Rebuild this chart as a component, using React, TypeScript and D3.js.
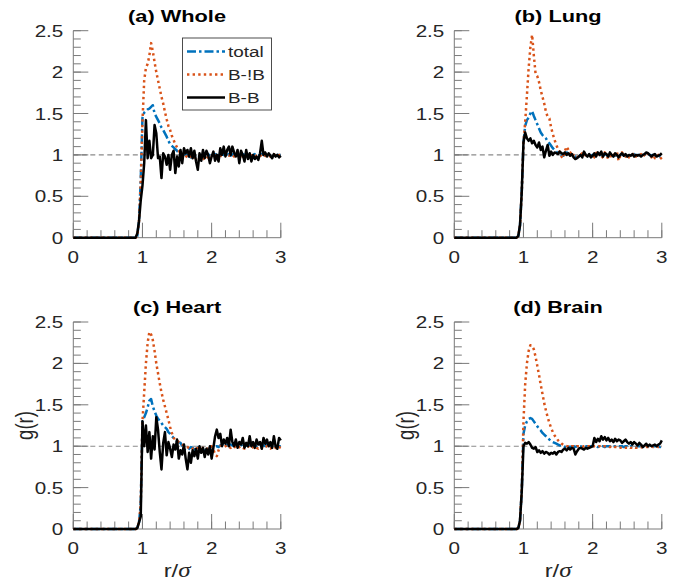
import React from 'react';
import * as d3 from 'd3';

// r/sigma sampling grid
const R = [0,
  0.9, 0.925, 0.95, 0.975, 1.0, 1.025, 1.05, 1.075, 1.1, 1.125,
  1.15, 1.175, 1.2, 1.225, 1.25, 1.275, 1.3, 1.325, 1.35, 1.375,
  1.4, 1.425, 1.45, 1.475, 1.5, 1.525, 1.55, 1.575, 1.6, 1.625,
  1.65, 1.675, 1.7, 1.725, 1.75, 1.775, 1.8, 1.825, 1.85, 1.875,
  1.9, 1.925, 1.95, 1.975, 2.0, 2.025, 2.05, 2.075, 2.1, 2.125,
  2.15, 2.175, 2.2, 2.225, 2.25, 2.275, 2.3, 2.325, 2.35, 2.375,
  2.4, 2.425, 2.45, 2.475, 2.5, 2.525, 2.55, 2.575, 2.6, 2.625,
  2.65, 2.675, 2.7, 2.725, 2.75, 2.775, 2.8, 2.825, 2.85, 2.875,
  2.9, 2.925, 2.95, 2.975, 3.0];

// (a) Whole
const wholeTotal = [0,
  0, 0.02, 0.2, 0.7, 1.45, 1.51, 1.53, 1.55, 1.56, 1.58,
  1.6, 1.5, 1.46, 1.42, 1.38, 1.33, 1.3, 1.26, 1.22, 1.17,
  1.13, 1.11, 1.09, 1.07, 1.05, 1.02, 0.99, 0.98, 1.0, 1.01,
  0.99, 0.98, 0.97, 0.99, 1.0, 0.98, 0.97, 0.98, 1.0, 0.99,
  0.98, 1.0, 1.01, 0.99, 0.98, 1.0, 1.01, 1.0, 0.99, 1.01,
  1.02, 1.0, 0.99, 1.0, 1.01, 0.99, 1.0, 1.02, 1.01, 1.0,
  0.99, 1.0, 1.01, 1.0, 0.99, 1.0, 1.0, 0.99, 1.0, 1.01,
  1.0, 0.99, 1.0, 1.01, 1.0, 0.99, 1.0, 1.0, 0.99, 1.0,
  1.0, 0.99, 1.0, 1.0, 1.0];
const wholeBNB = [0,
  0, 0.02, 0.2, 0.65, 1.4, 1.9, 2.05, 2.1, 2.2, 2.35,
  2.25, 2.12, 2.0, 1.9, 1.8, 1.7, 1.62, 1.52, 1.43, 1.35,
  1.3, 1.23, 1.18, 1.13, 1.09, 1.05, 1.02, 1.0, 1.02, 0.99,
  0.97, 0.96, 0.98, 1.0, 0.97, 0.95, 0.94, 0.95, 0.97, 0.96,
  0.94, 0.95, 0.98, 1.0, 0.99, 0.97, 0.98, 1.0, 1.01, 0.99,
  0.98, 1.0, 1.02, 1.0, 0.99, 1.01, 1.0, 0.98, 1.0, 1.02,
  1.01, 0.99, 0.98, 1.0, 1.01, 1.0, 0.98, 0.99, 1.01, 1.0,
  0.98, 0.99, 1.0, 0.98, 0.97, 0.99, 1.0, 0.99, 0.98, 1.0,
  1.01, 0.99, 0.98, 1.0, 1.0];
const wholeBB = [0,
  0, 0.05, 0.2, 0.45, 0.63, 0.9, 1.42, 0.96, 1.17, 0.96,
  1.0, 1.36, 1.26, 0.96, 0.98, 0.72, 1.02, 0.98, 0.88, 1.0,
  0.82, 1.0, 1.05, 0.78, 0.98, 0.86, 1.06, 0.9, 1.08, 1.02,
  1.06, 0.98, 1.08, 0.96, 1.05, 0.92, 0.82, 1.02, 0.93, 1.06,
  0.96, 1.05, 1.0, 0.9, 0.98, 1.04, 0.93, 1.0, 0.92, 1.08,
  1.0, 1.1, 0.98, 1.06, 1.1, 1.0, 1.1, 1.03, 0.98, 1.06,
  0.9, 1.05, 1.0, 0.92, 1.06, 0.95, 1.02, 0.92, 1.0, 0.95,
  0.98, 0.94, 1.02, 1.17, 1.0, 1.03, 0.98, 1.02, 0.99, 0.96,
  1.01, 0.98, 1.0, 0.97, 0.99];

// (b) Lung
const lungTotal = [0,
  0, 0.02, 0.15, 0.55, 1.15, 1.35, 1.42, 1.45, 1.5, 1.53,
  1.47, 1.42, 1.37, 1.32, 1.27, 1.24, 1.22, 1.2, 1.16, 1.14,
  1.11, 1.08, 1.06, 1.04, 1.02, 1.01, 1.0, 0.99, 1.01, 1.03,
  1.02, 1.0, 1.01, 0.99, 0.98, 0.97, 0.98, 1.0, 1.0, 1.02,
  1.0, 0.99, 1.0, 0.99, 1.0, 0.99, 1.01, 1.02, 1.0, 1.0,
  0.99, 1.01, 1.0, 0.98, 0.99, 1.01, 1.0, 0.99, 1.01, 0.98,
  1.0, 1.01, 1.0, 0.99, 1.0, 0.99, 1.0, 1.0, 1.01, 0.99,
  1.0, 1.0, 1.0, 0.99, 1.0, 1.02, 1.01, 1.0, 0.99, 1.0,
  0.99, 0.98, 1.0, 0.98, 0.99];
const lungBNB = [0,
  0, 0.02, 0.15, 0.55, 1.15, 1.4, 1.72, 2.05, 2.3, 2.45,
  2.2, 1.98, 1.95, 1.88, 1.78, 1.7, 1.62, 1.52, 1.46, 1.44,
  1.33, 1.25, 1.18, 1.12, 1.07, 1.03, 0.98, 0.96, 1.05, 1.1,
  1.06, 1.02, 1.04, 0.99, 1.0, 0.98, 0.97, 1.0, 1.02, 0.99,
  1.0, 0.98, 0.99, 1.01, 1.0, 0.97, 1.02, 1.04, 1.0, 0.96,
  0.98, 1.03, 1.0, 0.95, 0.96, 1.02, 1.0, 0.97, 1.04, 0.93,
  0.99, 1.03, 1.0, 0.98, 1.01, 0.97, 0.99, 1.0, 1.02, 0.98,
  1.0, 0.99, 1.01, 0.98, 1.0, 1.03, 1.01, 0.99, 0.97, 1.0,
  0.96, 0.98, 1.0, 0.95, 0.97];
const lungBB = [0,
  0, 0.02, 0.15, 0.55, 1.15, 1.27, 1.2, 1.17, 1.2, 1.14,
  1.17, 1.12, 1.09, 1.15, 1.06, 1.1, 0.97, 1.05, 1.12, 0.99,
  1.04, 1.0, 1.03, 1.02, 1.01, 1.04, 1.02, 1.01, 1.03, 1.0,
  1.02, 0.99, 1.01, 0.97, 0.95, 0.96, 0.98, 1.0, 0.97, 1.04,
  1.0, 0.98, 1.01, 0.97, 0.99, 1.02, 0.98, 1.03, 1.0, 1.04,
  0.98, 1.02, 1.01, 0.98, 1.03, 1.0, 0.98, 1.02, 1.0, 0.97,
  1.0, 1.02, 0.99, 1.01, 0.98, 1.0, 0.99, 1.01, 0.98, 1.0,
  0.99, 1.0, 0.98, 1.0, 1.01, 1.03, 1.02, 1.0, 0.98, 1.0,
  1.01, 0.98, 0.99, 1.0, 1.02];

// (c) Heart
const heartTotal = [0,
  0, 0.01, 0.08, 0.3, 1.3, 1.35, 1.4, 1.47, 1.55, 1.57,
  1.48, 1.42, 1.37, 1.33, 1.31, 1.28, 1.25, 1.23, 1.21, 1.17,
  1.15, 1.12, 1.1, 1.08, 1.06, 1.05, 1.04, 1.0, 0.96, 0.95,
  0.95, 0.97, 0.99, 0.98, 0.96, 0.97, 0.99, 0.97, 0.95, 0.96,
  0.94, 0.95, 0.97, 0.96, 0.95, 0.97, 0.99, 1.0, 0.99, 1.01,
  1.02, 1.0, 1.01, 1.02, 1.0, 1.02, 1.01, 1.0, 1.02, 1.01,
  1.0, 1.01, 1.02, 1.0, 1.01, 1.0, 1.02, 1.01, 1.0, 1.01,
  1.0, 1.01, 1.02, 1.0, 1.01, 1.0, 1.02, 1.0, 1.01, 1.0,
  1.01, 1.0, 0.99, 1.0, 1.0];
const heartBNB = [0,
  0, 0.01, 0.08, 0.3, 1.3, 1.65, 2.0, 2.25, 2.38, 2.35,
  2.28, 2.15, 2.0, 1.88, 1.76, 1.65, 1.56, 1.48, 1.4, 1.32,
  1.23, 1.16, 1.1, 1.08, 1.07, 1.05, 1.04, 1.02, 1.01, 1.0,
  0.99, 0.98, 0.99, 0.97, 0.96, 0.97, 0.98, 0.97, 0.96, 0.98,
  0.97, 0.96, 0.98, 0.99, 1.0, 0.96, 0.9, 0.88, 0.95, 1.0,
  1.01, 0.99, 1.0, 1.01, 0.99, 0.98, 1.0, 1.0, 0.98, 0.97,
  0.99, 1.0, 0.98, 0.97, 0.99, 1.0, 0.98, 0.97, 0.99, 1.0,
  0.98, 0.97, 0.99, 0.98, 0.97, 0.99, 1.0, 0.98, 0.97, 0.99,
  1.0, 0.98, 0.97, 0.99, 0.98];
const heartBB = [0,
  0, 0.01, 0.08, 0.15, 1.3, 1.0, 1.25, 0.93, 1.17, 0.85,
  1.12, 0.96, 1.35, 1.2, 0.93, 0.72, 1.04, 1.17, 0.89, 1.05,
  0.97, 0.87, 1.02, 0.96, 1.08, 0.85, 0.95, 0.9, 1.02, 0.85,
  0.72, 0.92, 0.8, 0.95, 0.88, 0.97, 0.85, 1.0, 0.92, 0.98,
  0.87, 0.97, 0.9, 1.0, 0.85, 0.98, 1.12, 1.2, 1.1, 1.15,
  1.0, 1.08, 1.03, 1.1, 1.0, 1.2, 1.05, 1.0, 1.08, 0.98,
  1.05, 1.02, 1.1, 0.98, 1.04, 1.0, 1.12, 1.0, 1.05, 0.98,
  1.08, 1.02, 1.05, 0.97, 1.1, 1.03, 1.08, 1.0, 1.05, 0.98,
  1.12, 1.0, 0.97, 1.1, 1.07];

// (d) Brain
const brainTotal = [0,
  0, 0.01, 0.1, 0.45, 1.15, 1.25, 1.3, 1.33, 1.34, 1.33,
  1.3, 1.27, 1.24, 1.21, 1.19, 1.16, 1.14, 1.12, 1.1, 1.08,
  1.06, 1.05, 1.04, 1.03, 1.02, 1.01, 1.0, 1.0, 0.99, 1.0,
  1.0, 0.99, 1.0, 1.0, 0.99, 1.0, 1.0, 1.0, 0.99, 1.0,
  1.0, 1.0, 0.99, 1.0, 1.0, 1.0, 1.0, 0.99, 1.0, 1.0,
  1.0, 0.99, 1.0, 1.0, 1.0, 1.0, 0.99, 1.0, 1.0, 1.0,
  1.0, 1.0, 0.99, 1.0, 1.0, 0.99, 1.0, 1.0, 1.0, 0.99,
  1.0, 1.0, 1.0, 0.99, 1.0, 1.0, 1.0, 1.0, 0.99, 1.0,
  1.0, 1.0, 1.0, 0.99, 1.0];
const brainBNB = [0,
  0, 0.01, 0.1, 0.45, 1.3, 1.75, 2.0, 2.15, 2.22, 2.21,
  2.17, 2.08, 1.97, 1.86, 1.74, 1.63, 1.52, 1.43, 1.35, 1.28,
  1.22, 1.17, 1.13, 1.1, 1.07, 1.05, 1.03, 1.02, 1.01, 1.0,
  1.0, 0.99, 1.0, 1.0, 0.99, 1.0, 1.0, 1.0, 0.99, 1.0,
  1.0, 1.0, 1.0, 0.99, 1.0, 1.0, 1.0, 1.0, 1.0, 0.99,
  1.0, 1.0, 1.0, 1.0, 0.99, 1.0, 1.0, 0.99, 0.99, 0.98,
  0.98, 0.99, 0.98, 0.98, 0.98, 0.99, 0.98, 0.98, 0.99, 0.98,
  0.98, 0.98, 0.99, 0.98, 0.98, 0.99, 0.99, 1.0, 1.0, 0.99,
  1.0, 1.0, 0.99, 1.0, 1.0];
const brainBB = [0,
  0, 0.01, 0.1, 0.45, 1.0, 1.04, 1.03, 1.05, 1.02, 0.98,
  0.97, 0.99, 0.93, 0.95, 0.92, 0.94, 0.91, 0.93, 0.92, 0.9,
  0.92, 0.91, 0.93, 0.9, 0.93, 0.94, 0.93, 0.96, 0.97, 0.95,
  0.98, 0.96, 0.98, 0.97, 0.9, 0.94, 0.97, 0.98, 0.97, 0.96,
  0.98, 0.97, 0.98, 0.99, 1.0, 1.1, 1.05, 1.09, 1.06, 1.12,
  1.08, 1.11, 1.07, 1.1, 1.06, 1.08, 1.05, 1.09, 1.06, 1.08,
  1.07, 1.04, 1.06, 1.08, 1.05, 1.03, 1.05, 1.02, 1.05, 1.03,
  1.01, 1.04, 1.02, 0.99, 1.01, 1.03, 1.0, 1.02, 1.0, 1.01,
  1.02, 1.0, 1.02, 1.03, 1.07];

const yTickValues = [0, 0.5, 1, 1.5, 2, 2.5];
const yTickLabels = ['0', '0.5', '1', '1.5', '2', '2.5'];
const xTickValues = [0, 1, 2, 3];
const xTickLabels = ['0', '1', '2', '3'];
const legendLabels = ['total', 'B-!B', 'B-B'];

const BLUE = '#0072BD';
const ORANGE = '#D95319';
const AXIS = '#7a7a7a';
const FONT = '"Liberation Sans", Arial, Helvetica, sans-serif';

const styles = [
  { color: BLUE, dash: '9,3,2.5,3', width: 2.5 },
  { color: ORANGE, dash: '2.4,3.2', width: 2.5 },
  { color: '#000', dash: null as string | null, width: 2.5 },
];

function Txt({ x, y, children, anchor = 'middle', size = 16, weight = 'normal', sx = 1.25, fill = '#262626', rotate = 0 }: any) {
  const tr = `translate(${x},${y}) scale(${sx},1)` + (rotate ? ` rotate(${rotate})` : '');
  return (
    <text transform={tr} textAnchor={anchor} fontSize={size} fontWeight={weight} fontFamily={FONT} fill={fill}>
      {children}
    </text>
  );
}

function Panel({ left, top, title, series, legend, xLabel, yLabel }: any) {
  const W = 207.5, H = 207;
  const x = d3.scaleLinear().domain([0, 3]).range([left, left + W]);
  const y = d3.scaleLinear().domain([0, 2.5]).range([top + H, top]);
  const line = d3.line<number>().x((_, i) => x(R[i])).y((d) => y(d));
  const minorY = d3.range(0, 2.5001, 0.1);
  const minorX = d3.range(0, 3.0001, 0.2);
  const x0 = x(0), y0 = y(0);
  return (
    <g>
      <line x1={x(0)} x2={x(3)} y1={y(1)} y2={y(1)} stroke="#8a8a8a" strokeWidth={1.1} strokeDasharray="5,3.5" />
      <line x1={x0} x2={x0} y1={y(2.5)} y2={y0} stroke={AXIS} strokeWidth={1} />
      <line x1={x0} x2={x(3)} y1={y0} y2={y0} stroke={AXIS} strokeWidth={1} />
      {minorY.map((v, i) => (
        <line key={'my' + i} x1={x0} x2={x0 + 7.5} y1={y(v)} y2={y(v)} stroke={AXIS} strokeWidth={1} />
      ))}
      {yTickValues.map((v, i) => (
        <line key={'My' + i} x1={x0} x2={x0 + 15} y1={y(v)} y2={y(v)} stroke={AXIS} strokeWidth={1} />
      ))}
      {minorX.map((v, i) => (
        <line key={'mx' + i} x1={x(v)} x2={x(v)} y1={y0} y2={y0 - 7.5} stroke={AXIS} strokeWidth={1} />
      ))}
      {xTickValues.map((v, i) => (
        <line key={'Mx' + i} x1={x(v)} x2={x(v)} y1={y0} y2={y0 - 15} stroke={AXIS} strokeWidth={1} />
      ))}
      {yTickValues.map((v, i) => (
        <Txt key={'ly' + i} x={x0 - 10} y={y(v) + 6} anchor="end" size={16.5}>{yTickLabels[i]}</Txt>
      ))}
      {xTickValues.map((v, i) => (
        <Txt key={'lx' + i} x={x(v)} y={y0 + 25} size={16.5}>{xTickLabels[i]}</Txt>
      ))}
      {series.map((s: number[], i: number) => (
        <path key={'s' + i} d={line(s) || ''} fill="none" stroke={styles[i].color} strokeWidth={styles[i].width}
          strokeDasharray={styles[i].dash || undefined} strokeLinejoin="round" />
      ))}
      <Txt x={left + W / 2} y={top - 9} size={17} weight="bold" sx={1.28} fill="#000">{title}</Txt>
      {yLabel && (
        <Txt x={left - 40} y={top + H / 2} size={18.5} sx={1.3} rotate={-90}>g(r)</Txt>
      )}
      {xLabel && (
        <text transform={`translate(${left + W / 2},${top + H + 48}) scale(1.25,1)`} textAnchor="middle" fontSize={19} fontFamily={FONT} fill="#262626">
          r/<tspan fontFamily='"Liberation Serif", "DejaVu Serif", serif' fontStyle="italic" fontSize={20}>σ</tspan>
        </text>
      )}
      {legend && (
        <g>
          <rect x={182.5} y={38} width={89} height={72} fill="#fff" stroke="#3a3a3a" strokeWidth={0.9} />
          {legendLabels.map((lab, i) => {
            const cy = 51.5 + i * 23;
            return (
              <g key={'lg' + i}>
                <line x1={187} x2={225} y1={cy} y2={cy} stroke={styles[i].color} strokeWidth={styles[i].width}
                  strokeDasharray={styles[i].dash || undefined} />
                <Txt x={228} y={cy + 5.5} anchor="start" size={15.5} sx={1.22}>{lab}</Txt>
              </g>
            );
          })}
        </g>
      )}
    </g>
  );
}

export default function App() {
  return (
    <svg width={681} height={586} style={{ position: 'absolute', left: 0, top: 0, background: '#fff' }}>
      <rect width={681} height={586} fill="#fff" />
      <Panel left={73.3} top={30.7} title="(a) Whole" series={[wholeTotal, wholeBNB, wholeBB]} legend />
      <Panel left={454.3} top={30.7} title="(b) Lung" series={[lungTotal, lungBNB, lungBB]} />
      <Panel left={73.3} top={322} title="(c) Heart" series={[heartTotal, heartBNB, heartBB]} xLabel yLabel />
      <Panel left={454.3} top={322} title="(d) Brain" series={[brainTotal, brainBNB, brainBB]} xLabel yLabel />
    </svg>
  );
}
